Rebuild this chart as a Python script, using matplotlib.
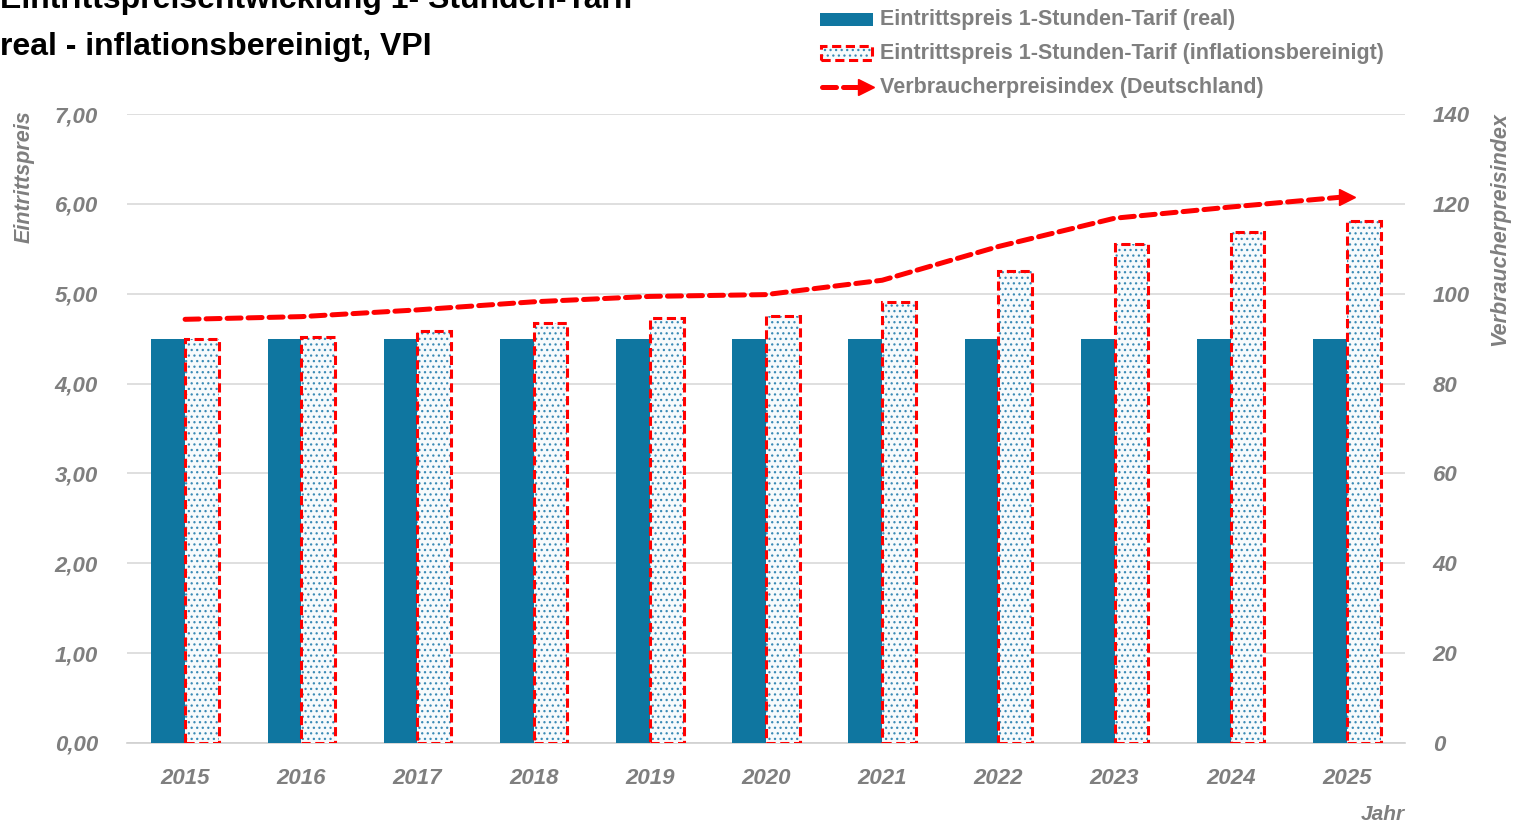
import matplotlib.pyplot as plt
import matplotlib.patches as mpatches
from matplotlib.lines import Line2D
import numpy as np

# data
years = ['2015', '2016', '2017', '2018', '2019', '2020', '2021', '2022', '2023', '2024', '2025']
price_real = [4.50, 4.50, 4.50, 4.50, 4.50, 4.50, 4.50, 4.50, 4.50, 4.50, 4.50]
price_adjusted = [4.50, 4.52, 4.58, 4.67, 4.73, 4.75, 4.91, 5.25, 5.55, 5.69, 5.81]
vpi = [94.3, 94.9, 96.4, 98.2, 99.4, 99.8, 103.0, 110.5, 116.8, 119.3, 121.6]

BLUE = '#0f76a0'
RED = '#ff0000'
GRAY = '#7f7f7f'

plt.rcParams['font.family'] = ['Liberation Sans', 'DejaVu Sans']
plt.rcParams['hatch.linewidth'] = 0.9

fig = plt.figure(figsize=(15.15, 8.26), dpi=100)
ax = fig.add_axes([127 / 1515, 1 - 743 / 826, (1405 - 127) / 1515, (743 - 114) / 826])
ax2 = ax.twinx()

x = np.arange(len(years))
w = 0.29

# real price bars
ax.bar(x - w / 2, price_real, width=w, color=BLUE, zorder=3)
# inflation adjusted: dotted fill, then red dashed outline on top
ax.bar(x + w / 2, price_adjusted, width=w, facecolor='#f7fafc', edgecolor='#3a8ab5',
       hatch='...', linewidth=0, zorder=3)
ax.bar(x + w / 2, price_adjusted, width=w, facecolor='none', edgecolor=RED,
       linewidth=2.2, linestyle=(0, (3, 1.5)), zorder=4)

ax.set_xlim(-0.5, len(years) - 0.5)
ax.set_ylim(0, 7)
ax.set_yticks(np.arange(0, 7.01, 1))
ax.set_yticklabels([f'{v:.2f}'.replace('.', ',') for v in np.arange(0, 7.01, 1)])
ax.set_xticks(x)
ax.set_xticklabels(years)
ax.grid(axis='y', color='#d9d9d9', linewidth=1.2, zorder=0)
ax.set_axisbelow(True)
for s in ['top', 'right', 'left']:
    ax.spines[s].set_visible(False)
ax.spines['bottom'].set_color('#d0d0d0')
ax.spines['bottom'].set_linewidth(1.2)
ax.tick_params(axis='both', length=0, colors=GRAY, labelsize=16)
ax.tick_params(axis='y', pad=21)
ax.tick_params(axis='x', pad=18)
for lab in ax.get_xticklabels() + ax.get_yticklabels():
    lab.set_fontweight('bold')
    lab.set_fontstyle('italic')

# VPI line on the right axis
ax2.plot(x, vpi, color=RED, linewidth=3.6, linestyle=(0, (2.8, 1.4)),
         dash_capstyle='round', zorder=5)
ax2.plot(x[-1:], vpi[-1:], marker='>', color=RED, markersize=12, linestyle='none', zorder=5)
ax2.set_ylim(0, 140)
ax2.set_yticks(np.arange(0, 141, 20))
for s in ['top', 'right', 'left', 'bottom']:
    ax2.spines[s].set_visible(False)
ax2.tick_params(axis='y', length=0, colors=GRAY, labelsize=16, pad=20)
for lab in ax2.get_yticklabels():
    lab.set_fontweight('bold')
    lab.set_fontstyle('italic')

# axis titles
fig.text(24 / 1515, 1 - 110 / 826, 'Eintrittspreis', rotation=90, ha='center', va='top',
         color=GRAY, fontsize=15.5, fontstyle='italic', fontweight='bold')
fig.text(1500 / 1515, 1 - 112 / 826, 'Verbraucherpreisindex', rotation=90, ha='center', va='top',
         color=GRAY, fontsize=15.5, fontstyle='italic', fontweight='bold')
fig.text(1383 / 1515, 1 - 815 / 826, 'Jahr', ha='center', va='center',
         color=GRAY, fontsize=15, fontstyle='italic', fontweight='bold')

# title (first line is cut off at the top like in the original)
fig.text(0, 1 - 8 / 826, 'Eintrittspreisentwicklung 1- Stunden-Tarif', ha='left', va='baseline',
         fontsize=23, fontweight='bold', color='black')
fig.text(0, 1 - 55 / 826, 'real - inflationsbereinigt, VPI', ha='left', va='baseline',
         fontsize=23, fontweight='bold', color='black')

# legend drawn by hand
def fx(px):
    return px / 1515


def fy(py):
    return 1 - py / 826


fig.add_artist(mpatches.Rectangle((fx(820), fy(26)), fx(873) - fx(820), fy(13) - fy(26),
                                  facecolor=BLUE, edgecolor='none', transform=fig.transFigure))
fig.add_artist(mpatches.Rectangle((fx(821), fy(60)), fx(872) - fx(821), fy(46) - fy(60),
                                  facecolor='#f7fafc', edgecolor='#3a8ab5', hatch='...', linewidth=0,
                                  transform=fig.transFigure))
fig.add_artist(mpatches.Rectangle((fx(821), fy(60)), fx(872) - fx(821), fy(46) - fy(60),
                                  facecolor='none', edgecolor=RED, linewidth=2.2,
                                  linestyle=(0, (3, 1.5)), transform=fig.transFigure))
fig.add_artist(Line2D([fx(822), fx(862)], [fy(87), fy(87)], color=RED, linewidth=3.6,
                      linestyle=(0, (2.8, 1.4)), dash_capstyle='round', transform=fig.transFigure))
fig.add_artist(Line2D([fx(866)], [fy(87)], marker='>', color=RED, markersize=12,
                      linestyle='none', transform=fig.transFigure))
legend_labels = ['Eintrittspreis 1-Stunden-Tarif (real)',
                 'Eintrittspreis 1-Stunden-Tarif (inflationsbereinigt)',
                 'Verbraucherpreisindex (Deutschland)']
for label, py in zip(legend_labels, [19, 53, 87]):
    fig.text(fx(880), fy(py), label, ha='left', va='center', color=GRAY,
             fontsize=15.5, fontweight='bold')

plt.savefig('out.png', dpi=100)
plt.close()
